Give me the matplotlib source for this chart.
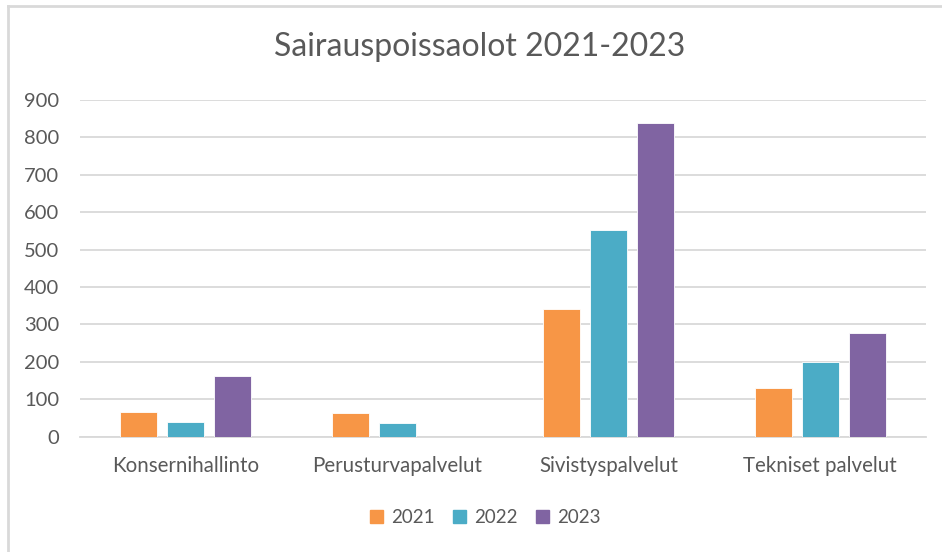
import matplotlib
matplotlib.use("Agg")
import matplotlib.pyplot as plt
from matplotlib.lines import Line2D
import numpy as np

plt.rcParams['font.family'] = ['Lato', 'DejaVu Sans']

categories = ["Konsernihallinto", "Perusturvapalvelut", "Sivistyspalvelut", "Tekniset palvelut"]
years = ["2021", "2022", "2023"]
values_2021 = [65, 62, 341, 129]
values_2022 = [40, 36, 553, 200]
values_2023 = [163, 0, 838, 277]
colors = ["#F79646", "#4BACC6", "#8064A2"]
yticks = [0, 100, 200, 300, 400, 500, 600, 700, 800, 900]

text_color = "#595959"
grid_color = "#D9D9D9"

fig = plt.figure(figsize=(9.42, 5.52), dpi=100)
fig.patch.set_facecolor("white")

# light frame along the top and left edges
fig.add_artist(Line2D([0.0085, 1.0], [0.9885, 0.9885], color=grid_color, lw=2.0))
fig.add_artist(Line2D([0.0085, 0.0085], [0.0, 0.9885], color=grid_color, lw=2.0))

ax = fig.add_axes([0.0849, 0.2089, 0.8981, 0.6099])

x = np.arange(len(categories))
bar_w = 0.175
step = 0.222
series = [values_2021, values_2022, values_2023]
for i, (vals, col) in enumerate(zip(series, colors)):
    ax.bar(x + (i - 1) * step, vals, width=bar_w, color=col,
           edgecolor="white", linewidth=0.6, zorder=3)

ax.set_xlim(-0.5, len(categories) - 0.5)
ax.set_ylim(0, 900)
ax.set_yticks(yticks)
ax.set_yticklabels([str(t) for t in yticks])
ax.yaxis.grid(True, color=grid_color, linewidth=1.3, zorder=0)
ax.set_axisbelow(True)
for s in ["top", "right", "left"]:
    ax.spines[s].set_visible(False)
ax.spines["bottom"].set_color(grid_color)
ax.spines["bottom"].set_linewidth(1.3)
ax.tick_params(axis="both", length=0, colors=text_color, labelsize=14.5)
ax.tick_params(axis="y", pad=15)
ax.tick_params(axis="x", pad=14)
ax.set_xticks(x)
ax.set_xticklabels(categories)
for lbl in ax.get_xticklabels():
    lbl.set_fontsize(14.8)

fig.text(0.509, 0.915, "Sairauspoissaolot 2021-2023", ha="center", va="center",
         fontsize=23, color=text_color)

handles = [plt.Rectangle((0, 0), 1, 1, color=c) for c in colors]
fig.legend(handles, years, loc="center", bbox_to_anchor=(0.515, 0.062), ncol=3,
           frameon=False, fontsize=13.5, labelcolor=text_color,
           handlelength=0.7, handleheight=0.7, handletextpad=0.4, columnspacing=1.0)

fig.savefig("out.png", dpi=100, facecolor="white")
